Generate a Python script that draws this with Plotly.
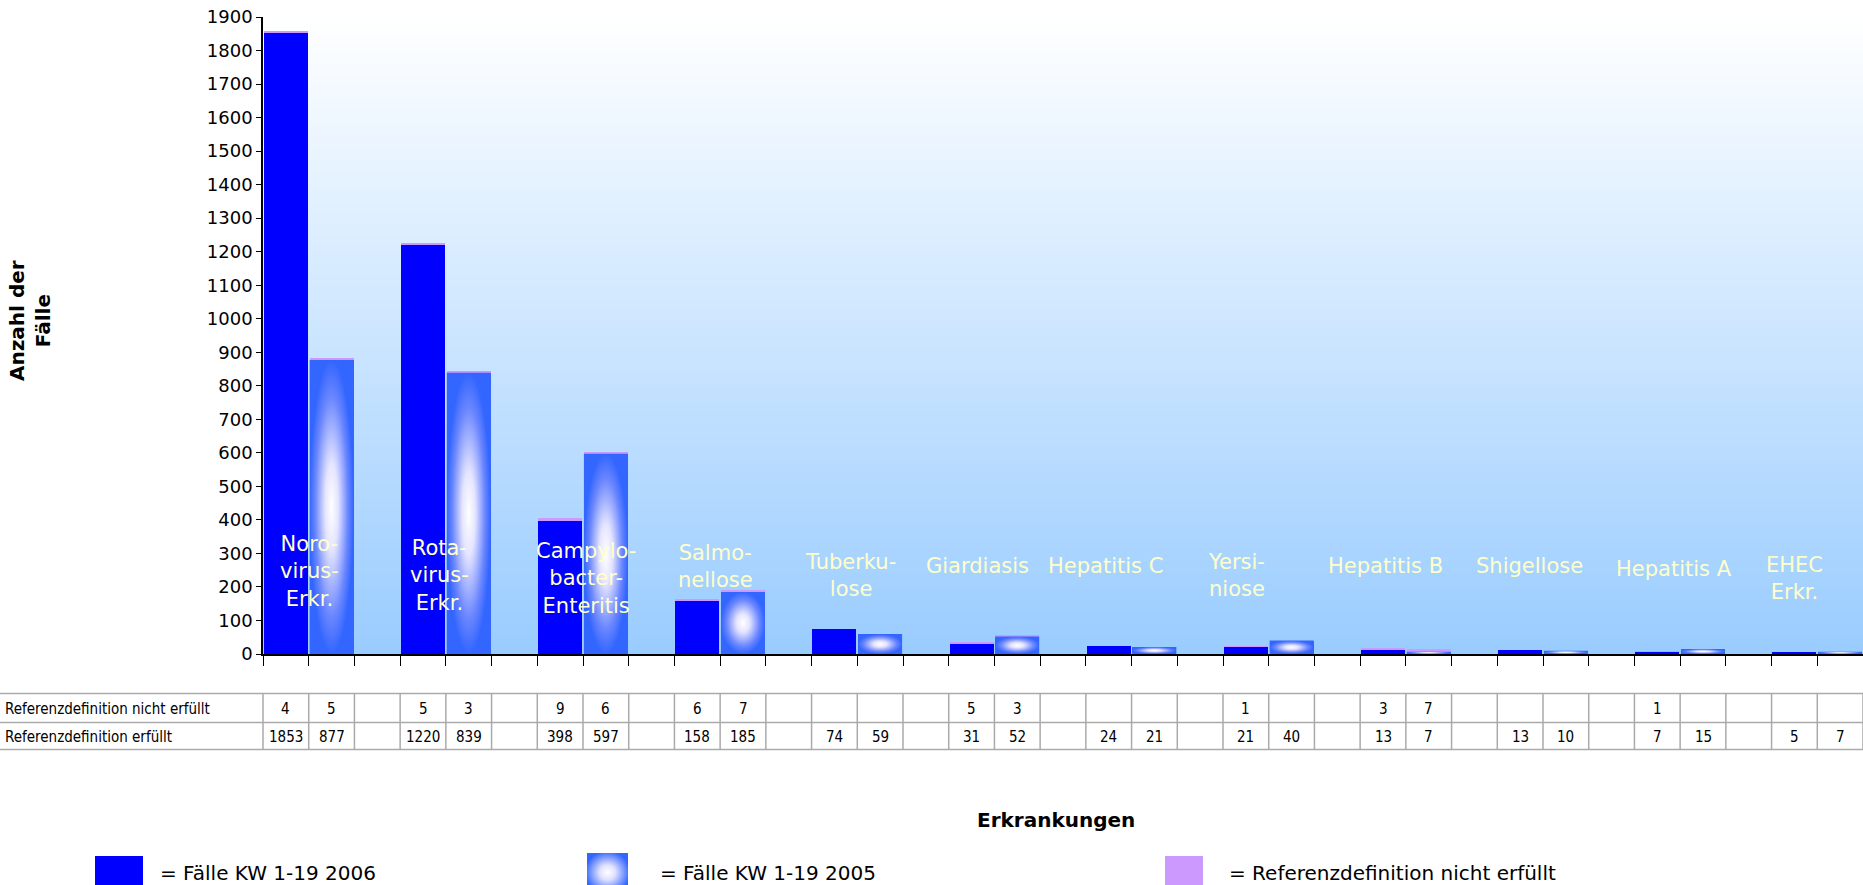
import base64
import plotly.graph_objects as go

# ---------------- data ----------------
categories = ["Noro-<br>virus-<br>Erkr.", "Rota-<br>virus-<br>Erkr.", "Campylo-<br>bacter-<br>Enteritis",
              "Salmo-<br>nellose", "Tuberku-<br>lose", "Giardiasis", "Hepatitis C", "Yersi-<br>niose",
              "Hepatitis B", "Shigellose", "Hepatitis A", "EHEC<br>Erkr."]
cases_2006 = [1853, 1220, 398, 158, 74, 31, 24, 21, 13, 13, 7, 5]
cases_2005 = [877, 839, 597, 185, 59, 52, 21, 40, 7, 10, 15, 7]
not_met_2006 = [4, 5, 9, 6, None, 5, None, 1, 3, None, 1, None]
not_met_2005 = [5, 3, 6, 7, None, 3, None, None, 7, None, None, None]
y_tick_values = list(range(0, 2000, 100))
row_labels = ["Referenzdefinition nicht erfüllt", "Referenzdefinition erfüllt"]
legend_labels = ["= Fälle KW 1-19 2006", "= Fälle KW 1-19 2005", "= Referenzdefinition nicht erfüllt"]

# ---------------- layout constants ----------------
label_dx = [0.51, 0.37, 0.57, 0.40, 0.36, 0.14, -0.06, -0.20, 0.05, 0.20, 0.36, 0.0]
label_y = [245, 234, 224, 261, 234, 263, 263, 234, 263, 263, 255, 224]

W, H = 1863, 885
ML, MT, MB = 263, 17, 231
PW, PH = W - ML, H - MT - MB
Y0 = MT + PH  # pixel row of the plot bottom


def pxx(px):
    return (px - ML) / PW


def pxy(py):
    return (Y0 - py) / PH


C06 = "#0000FF"
C05 = "#3366FF"
CREF = "#CC99FF"
BW = 0.96
n = len(categories)
x06 = [3 * i for i in range(n)]
x05 = [3 * i + 1 for i in range(n)]

fig = go.Figure()

# background gradient of plot area
fig.add_trace(go.Heatmap(x=[-0.5, 34.5], y=[0, 1900], z=[[0, 0], [1, 1]],
                         colorscale=[[0, "#99CCFF"], [1, "#FFFFFF"]], zsmooth="best",
                         showscale=False, hoverinfo="skip"))

fig.add_trace(go.Bar(x=x06, y=cases_2006, width=BW, marker=dict(color=C06, line=dict(width=0)),
                     name="Fälle KW 1-19 2006"))
fig.add_trace(go.Bar(x=x05, y=cases_2005, width=BW, marker=dict(color=C05, line=dict(width=0)),
                     name="Fälle KW 1-19 2005"))
fig.add_trace(go.Bar(x=x06 + x05, y=not_met_2006 + not_met_2005, width=BW,
                     marker=dict(color=CREF, line=dict(width=0)),
                     name="Referenzdefinition nicht erfüllt"))

# gradient fill of the 2005 bars
for xc, v in zip(x05, cases_2005):
    hw = BW / 2
    fig.add_trace(go.Scatter(x=[xc - hw, xc + hw, xc + hw, xc - hw, xc - hw],
                             y=[0, 0, v, v, 0], mode="lines", fill="toself",
                             line=dict(width=0, color=C05),
                             fillgradient=dict(type="radial",
                                               colorscale=[[0, "#FFFFFF"], [0.3, "#E4E4FF"],
                                                           [0.75, "#6A86FF"], [1, C05]]),
                             hoverinfo="skip", showlegend=False))

annotations = []
shapes = []

# category labels inside plot
for i, name in enumerate(categories):
    annotations.append(dict(x=3 * i + label_dx[i], y=label_y[i], xref="x", yref="y",
                            xanchor="center", yanchor="middle",
                            text=name, showarrow=False,
                            font=dict(family="DejaVu Sans", size=21, color="#FFFFCC")))

# axis titles
annotations.append(dict(x=pxx(30), y=pxy(321), xref="paper", yref="paper", textangle=-90,
                        xanchor="center", yanchor="middle",
                        text="<b>Anzahl der<br>Fälle</b>", showarrow=False,
                        font=dict(family="DejaVu Sans", size=20, color="black")))
annotations.append(dict(x=pxx(1056), y=pxy(820), xref="paper", yref="paper",
                        xanchor="center", yanchor="middle",
                        text="<b>Erkrankungen</b>", showarrow=False,
                        font=dict(family="DejaVu Sans", size=20, color="black")))

# data table
tfont = dict(family="Liberation Sans Narrow, Arial Narrow, DejaVu Sans Condensed, Liberation Sans",
             size=15, color="black")
t_top, t_mid, t_bot = pxy(693.5), pxy(722.5), pxy(749.5)
for yy in (t_top, t_mid, t_bot):
    shapes.append(dict(type="line", xref="paper", yref="paper", x0=pxx(0), x1=1, y0=yy, y1=yy,
                       line=dict(color="#AAAAAA", width=1.5)))
shapes.append(dict(type="line", xref="paper", yref="paper", x0=0, x1=0, y0=t_top, y1=t_bot,
                   line=dict(color="#AAAAAA", width=1.5)))
for k in range(1, 36):
    shapes.append(dict(type="line", xref="x", yref="paper", x0=k - 0.5, x1=k - 0.5, y0=t_top, y1=t_bot,
                       line=dict(color="#AAAAAA", width=1.5)))
row_y = [pxy(709), pxy(737)]
for r, lab in enumerate(row_labels):
    annotations.append(dict(x=pxx(3), y=row_y[r], xref="paper", yref="paper",
                            xanchor="left", yanchor="middle",
                            text=lab, showarrow=False, font=tfont))
for i in range(n):
    for xs, nm, cs in ((x06[i], not_met_2006[i], cases_2006[i]), (x05[i], not_met_2005[i], cases_2005[i])):
        if nm is not None:
            annotations.append(dict(x=xs, y=row_y[0], xref="x", yref="paper", text=str(nm),
                                    xanchor="center", yanchor="middle",
                                    showarrow=False, font=tfont))
        annotations.append(dict(x=xs, y=row_y[1], xref="x", yref="paper", text=str(cs),
                                xanchor="center", yanchor="middle",
                                showarrow=False, font=tfont))

# custom legend
lg_font = dict(family="DejaVu Sans", size=20, color="black")
shapes.append(dict(type="rect", xref="paper", yref="paper", x0=pxx(95), x1=pxx(143),
                   y0=pxy(892), y1=pxy(856), fillcolor=C06, line=dict(width=0)))
shapes.append(dict(type="rect", xref="paper", yref="paper", x0=pxx(1165), x1=pxx(1203),
                   y0=pxy(892), y1=pxy(856), fillcolor=CREF, line=dict(width=0)))
svg = ('<svg xmlns="http://www.w3.org/2000/svg" width="40" height="40" viewBox="0 0 40 40" '
       'preserveAspectRatio="none"><defs><radialGradient id="g" cx="50%" cy="50%" r="55%">'
       '<stop offset="0" stop-color="#ffffff"/><stop offset="0.35" stop-color="#e0e0ff"/>'
       '<stop offset="1" stop-color="#3366ff"/></radialGradient></defs>'
       '<rect width="40" height="40" fill="url(#g)"/></svg>')
src = "data:image/svg+xml;base64," + base64.b64encode(svg.encode()).decode()
images = [dict(source=src, xref="paper", yref="paper", x=pxx(587), y=pxy(853),
               sizex=pxx(628) - pxx(587), sizey=pxy(853) - pxy(892), sizing="stretch",
               xanchor="left", yanchor="top", layer="above")]
for lx, lab in zip((158, 658, 1227), legend_labels):
    annotations.append(dict(x=pxx(lx), y=pxy(873), xref="paper", yref="paper",
                            xanchor="left", yanchor="middle",
                            text=lab, showarrow=False, font=lg_font))

fig.update_layout(
    width=W, height=H, template="none",
    margin=dict(l=ML, r=0, t=MT, b=MB, pad=0),
    paper_bgcolor="white", plot_bgcolor="white",
    barmode="stack", showlegend=False,
    font=dict(family="DejaVu Sans", color="black"),
    xaxis=dict(range=[-0.5, 34.5], tickvals=[k - 0.5 for k in range(36)], ticks="outside",
               ticklen=10, tickwidth=1, tickcolor="black", showticklabels=False,
               showline=True, linecolor="black", linewidth=2, showgrid=False, zeroline=False),
    yaxis=dict(range=[0, 1900], tickvals=y_tick_values, ticktext=[str(v) for v in y_tick_values],
               ticks="outside", ticklen=5, tickwidth=1, tickcolor="black",
               tickfont=dict(family="DejaVu Sans", size=18, color="black"),
               showline=True, linecolor="black", linewidth=1.5, showgrid=False, zeroline=False),
    annotations=annotations, shapes=shapes, images=images,
)

fig.write_html("out.html")
